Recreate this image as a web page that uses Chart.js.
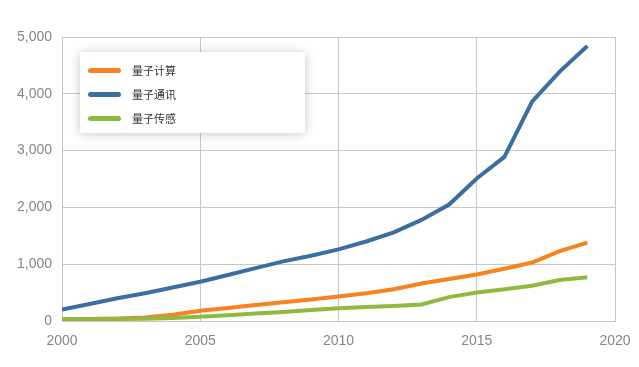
<!DOCTYPE html>
<html>
<head>
<meta charset="utf-8">
<script src="https://cdn.jsdelivr.net/npm/chart.js@4/dist/chart.umd.min.js"></script>
<style>
  html, body { margin: 0; padding: 0; background: #fff; }
  #wrap { position: relative; width: 639px; height: 367px; }
  #legend {
    position: absolute; left: 80px; top: 52px; width: 225px; height: 81px;
    background: #fff; box-shadow: 0 1px 10px rgba(0,0,0,0.22);
    font-family: "Noto Sans CJK SC", sans-serif; font-size: 11px; color: #333;
    box-sizing: border-box; padding-top: 6px;
  }
  .item { height: 24px; display: flex; align-items: center; }
  .swatch { width: 33px; height: 5px; border-radius: 3px; margin-left: 8px; margin-right: 11px; }
</style>
</head>
<body>
<div id="wrap">
  <canvas id="chart" width="639" height="367"></canvas>
  <div id="legend"></div>
</div>
<script>
// values
const years = [2000, 2001, 2002, 2003, 2004, 2005, 2006, 2007, 2008, 2009,
               2010, 2011, 2012, 2013, 2014, 2015, 2016, 2017, 2018, 2019];
const seriesNames = ["量子计算", "量子通讯", "量子传感"];
const computing = [30, 35, 45, 60, 110, 180, 230, 280, 330, 380,
                   430, 490, 560, 660, 740, 820, 920, 1030, 1230, 1380];
const communication = [200, 300, 400, 490, 590, 690, 810, 930, 1050, 1150,
                       1260, 1400, 1560, 1780, 2050, 2510, 2890, 3860, 4390, 4840];
const sensing = [30, 30, 35, 40, 55, 75, 100, 130, 160, 195,
                 225, 245, 265, 290, 420, 500, 560, 620, 720, 770];
const seriesColors = ["#f7821e", "#3c6fa0", "#8fba42"];
const xTicks = [2000, 2005, 2010, 2015, 2020];

const allSeries = [computing, communication, sensing];

// chart datasets built from the arrays above
const datasets = allSeries.map((vals, i) => ({
  label: seriesNames[i],
  data: vals.map((v, k) => ({ x: years[k], y: v })),
  borderColor: seriesColors[i],
  borderWidth: 4,
  pointRadius: 0,
  fill: false,
  tension: 0
}));
// draw green first then orange then blue on top
const order = [2, 0, 1];

new Chart(document.getElementById("chart").getContext("2d"), {
  type: "line",
  data: { datasets: order.map(i => datasets[i]) },
  options: {
    responsive: false,
    animation: false,
    layout: { padding: { top: 37, right: 24, left: 0, bottom: 0 } },
    plugins: { legend: { display: false }, tooltip: { enabled: false } },
    scales: {
      x: {
        type: "linear",
        min: 2000, max: 2020,
        afterBuildTicks: axis => { axis.ticks = xTicks.map(v => ({ value: v })); },
        afterFit: axis => { axis.height = 46; axis.paddingRight = 0; axis.paddingLeft = 0; },
        grid: { color: "#c8c8c8", drawTicks: false },
        border: { color: "#c8c8c8" },
        ticks: {
          color: "#858585", padding: 12,
          font: { family: "Liberation Sans, Arial, sans-serif", size: 14 },
          callback: v => String(v)
        }
      },
      y: {
        min: 0, max: 5000,
        afterFit: axis => { axis.width = 62; },
        grid: { color: "#c8c8c8", drawTicks: false },
        border: { color: "#c8c8c8" },
        ticks: {
          stepSize: 1000, color: "#858585", padding: 10,
          font: { family: "Liberation Sans, Arial, sans-serif", size: 14 },
          callback: v => v.toLocaleString("en-US")
        }
      }
    }
  }
});

// legend overlay
const legend = document.getElementById("legend");
seriesNames.forEach((name, i) => {
  const row = document.createElement("div");
  row.className = "item";
  row.innerHTML = `<span class="swatch" style="background:${seriesColors[i]}"></span><span>${name}</span>`;
  legend.appendChild(row);
});
</script>
</body>
</html>
